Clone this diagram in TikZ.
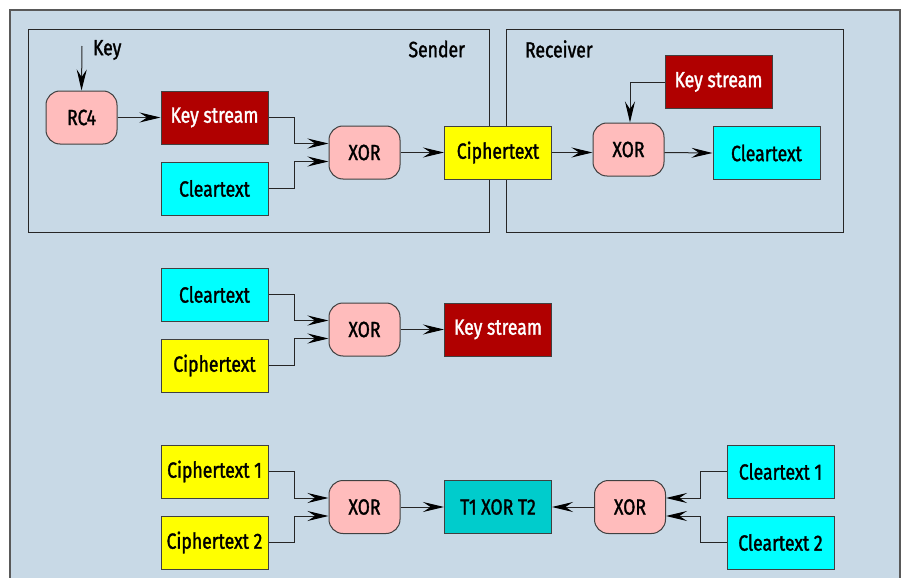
\documentclass[tikz,border=0pt]{standalone}
\usepackage{fontspec}
\setmainfont{Fira Sans}[FakeStretch=0.8, FakeBold=1.4]
\usepackage{tikz}
\usetikzlibrary{arrows.meta, calc}

\definecolor{panelbg}{RGB}{200,217,230}
\definecolor{xorpink}{RGB}{255,188,188}
\definecolor{keyred}{RGB}{176,0,0}
\definecolor{cleartxt}{RGB}{0,255,255}
\definecolor{ciphtxt}{RGB}{255,255,0}
\definecolor{mixtxt}{RGB}{0,204,204}

\tikzset{
  xorbox/.style={draw=black!75, fill=xorpink, rounded corners=7pt, line width=0.5pt,
    minimum width=35.5pt, minimum height=26.5pt, inner sep=0pt},
  databox/.style={draw=black!75, line width=0.5pt,
    minimum width=53.5pt, minimum height=26.5pt, inner sep=0pt},
  keybox/.style={databox, fill=keyred, text=white},
  clearbox/.style={databox, fill=cleartxt},
  cipherbox/.style={databox, fill=ciphtxt},
  mixbox/.style={databox, fill=mixtxt},
  wire/.style={draw=black!85, line width=0.5pt},
}

\begin{document}
\begin{tikzpicture}[x=0.5pt, y=-0.5pt,
        >={Stealth[length=10.5pt, width=5pt, inset=3.8pt, black]},
        font=\fontsize{11}{13}\selectfont]
  \useasboundingbox (0,0) rectangle (902,578);
  \fill[white] (0,0) rectangle (902,578);
  \draw[fill=panelbg, draw=black!65, line width=0.6pt] (10,10) rectangle (900,600);

  % sender / receiver frames
  \draw[black!85, line width=0.5pt] (28,29) rectangle (489,232);
  \draw[black!85, line width=0.5pt] (506,29) rectangle (843,232);
  \node[anchor=west] (keylbl) at (86,50) {Key};
  \node[anchor=east] (sendlbl) at (472,49) {Sender};
  \node[anchor=west] (recvlbl) at (518,49) {Receiver};

  % encryption
  \coordinate (keyin) at (82,46);
  \node[xorbox] (rc4) at (81.5,117.5) {RC4};
  \node[keybox] (ks1) at (214.5,117.5) {Key stream};
  \node[clearbox] (cl1) at (214.5,188.5) {Cleartext};
  \node[xorbox] (xor1) at (364.5,152.5) {XOR};
  \node[cipherbox] (cip1) at (498,152.5) {Ciphertext};

  % decryption
  \node[xorbox] (xor2) at (628.5,149.5) {XOR};
  \node[keybox] (ks2) at (718.5,82) {Key stream};
  \node[clearbox] (cl2) at (766.5,153) {Cleartext};

  % recovering the key stream
  \node[clearbox] (cl3) at (214.5,294.5) {Cleartext};
  \node[cipherbox] (cip3) at (214.5,365.5) {Ciphertext};
  \node[xorbox] (xor3) at (364.5,329.5) {XOR};
  \node[keybox] (ks3) at (498,329.5) {Key stream};

  % two ciphertexts, same key stream
  \node[cipherbox] (cip4) at (214.5,471.5) {Ciphertext 1};
  \node[cipherbox] (cip5) at (214.5,542.5) {Ciphertext 2};
  \node[xorbox] (xor4) at (364.5,507) {XOR};
  \node[mixbox] (mix) at (498,507) {T1 XOR T2};
  \node[xorbox] (xor5) at (630,507) {XOR};
  \node[clearbox] (cl4) at (780.5,471.5) {Cleartext 1};
  \node[clearbox] (cl5) at (780.5,542.5) {Cleartext 2};

  \draw[wire,->] (keyin) -- (rc4.north);
  \draw[wire,->] (rc4.east) -- (ks1.west);
  \draw[wire,->] (ks1.east) -- ++(26,0) |- ($(xor1.west)+(0,-9)$);
  \draw[wire,->] (cl1.east) -- ++(26,0) |- ($(xor1.west)+(0,9)$);
  \draw[wire,->] (xor1.east) -- (cip1.west);
  \draw[wire,->] (cip1.east) -- (cip1.east -| xor2.west);
  \draw[wire,->] (cip1.east -| xor2.east) -- (cl2.west);
  \draw[wire,->] (ks2.west) -| ($(xor2.north)+(1.5,0)$);

  \draw[wire,->] (cl3.east) -- ++(26,0) |- ($(xor3.west)+(0,-9)$);
  \draw[wire,->] (cip3.east) -- ++(26,0) |- ($(xor3.west)+(0,9)$);
  \draw[wire,->] (xor3.east) -- (ks3.west);

  \draw[wire,->] (cip4.east) -- ++(26,0) |- ($(xor4.west)+(0,-9)$);
  \draw[wire,->] (cip5.east) -- ++(26,0) |- ($(xor4.west)+(0,9)$);
  \draw[wire,->] (xor4.east) -- (mix.west);
  \draw[wire,->] (xor5.west) -- (mix.east);
  \draw[wire,->] (cl4.west) -- ++(-26,0) |- ($(xor5.east)+(0,-9)$);
  \draw[wire,->] (cl5.west) -- ++(-26,0) |- ($(xor5.east)+(0,9)$);
\end{tikzpicture}
\end{document}
